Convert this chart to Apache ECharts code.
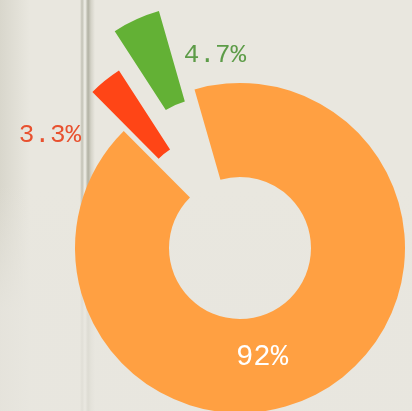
<!DOCTYPE html>
<html>
<head>
<meta charset="utf-8">
<script src="https://cdn.jsdelivr.net/npm/echarts@6/dist/echarts.min.js"></script>
<style>
    html, body {margin: 0; padding: 0;}
    #main {
        width: 412px; height: 411px;
        background:
            linear-gradient(180deg, rgba(232,230,223,0) 0%, rgba(232,230,223,0) 45%, rgba(232,230,223,0.8) 75%),
            linear-gradient(90deg, rgba(0,0,0,0) 0px, rgba(0,0,0,0) 80px,
                rgba(120,122,100,0.35) 82px, rgba(250,250,245,0.5) 85px, rgba(110,112,90,0.45) 88px,
                rgba(150,150,130,0.25) 91px, rgba(0,0,0,0) 95px),
            linear-gradient(90deg, rgba(200,198,185,0.5) 0px, rgba(232,230,223,0) 30px),
            #e9e7df;
    }
</style>
</head>
<body>
<div id="main"></div>
<script>
// slices, clockwise from the top gap
var names = ["main", "red", "green"];
var values = [92, 3.3, 4.7];

var colors = ["#ffa042", "#ff4516", "#63b135"];
var labelColors = ["#ffffff", "#e8512f", "#5d9c48"];
var offsets = [0, 50, 86];
var labelPos = [[262, 357], [50, 135], [215, 55]];

var chart = echarts.init(document.getElementById("main"));

var base = {
    type: "pie",
    center: [240, 248],
    radius: [71, 165],
    startAngle: 106,
    clockwise: true,
    animation: false,
    silent: true,
    emphasis: {disabled: true},
    labelLine: {show: false}
};

// one series per slice so every slice gets its own pull-out distance
var series = values.map(function(v, i) {
    return echarts.util.extend({
        selectedMode: "multiple",
        selectedOffset: offsets[i],
        label: {show: false},
        data: values.map(function(w, j) {
            return {
                name: names[j], value: w,
                selected: j == i && offsets[i] > 0,
                itemStyle: {color: j == i? colors[j]: "rgba(0,0,0,0)", borderWidth: 0}
            }
        })
    }, base)
});

// labels on a transparent copy, so the pull-out does not move them
series.push(echarts.util.extend({
    labelLayout: function(p) {
        return {x: labelPos[p.dataIndex][0], y: labelPos[p.dataIndex][1], align: "center", verticalAlign: "middle"}
    },
    data: values.map(function(w, j) {
        return {
            name: names[j], value: w,
            itemStyle: {color: "rgba(0,0,0,0)", borderWidth: 0},
            label: {
                show: true,
                position: j == 0? "inside": "outside",
                formatter: function(p) {return p.value + "%"},
                fontFamily: "Liberation Mono",
                fontSize: j == 0? 29: 26,
                color: labelColors[j]
            }
        }
    })
}, base));

chart.setOption({
    backgroundColor: "transparent",
    series: series
});
</script>
</body>
</html>
